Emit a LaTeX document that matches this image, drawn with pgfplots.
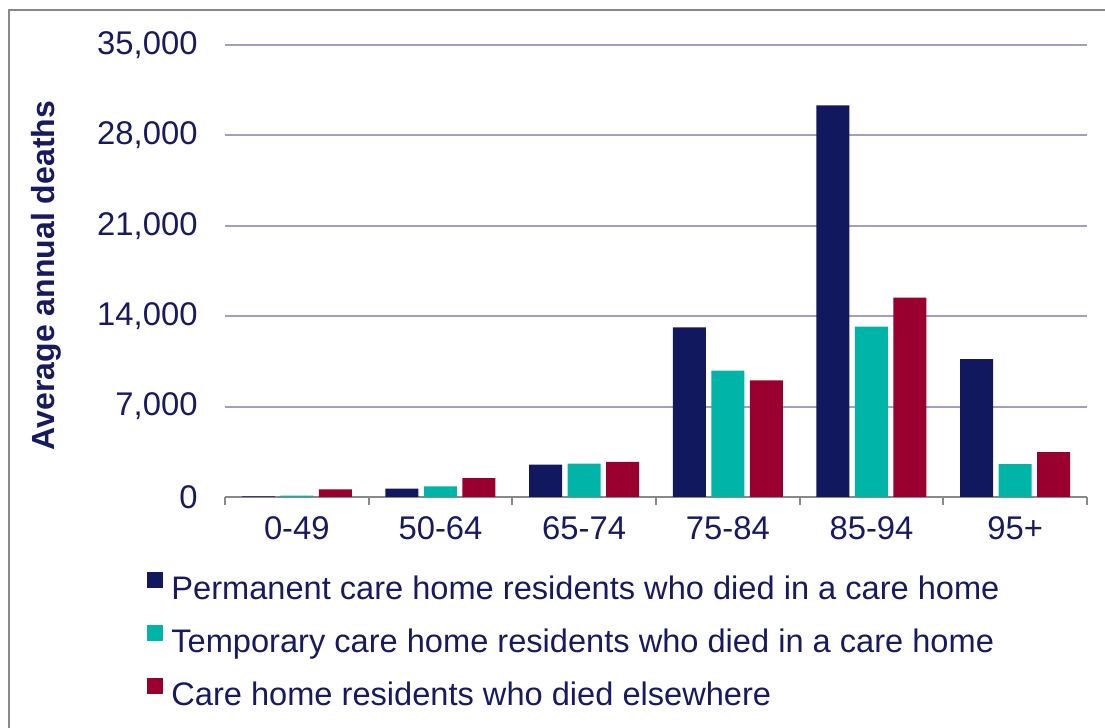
\documentclass[border=0pt]{standalone}
\usepackage{fontspec}
\setmainfont{Liberation Sans}
\usepackage{pgfplots}
\pgfplotsset{compat=1.18}
\definecolor{cnavy}{RGB}{18,24,94}
\definecolor{cteal}{RGB}{0,180,167}
\definecolor{ccrim}{RGB}{153,0,48}
\definecolor{ctext}{RGB}{24,26,96}
\definecolor{cgrid}{RGB}{160,160,192}
\definecolor{cframe}{RGB}{137,137,137}
\begin{document}
\begin{tikzpicture}
\path[use as bounding box] (-112.5pt,-115.5pt) rectangle (440pt,248.5pt);
\draw[cframe,line width=1pt] (-107.75pt,-115.5pt) -- (-107.75pt,243.25pt) -- (440pt,243.25pt);
\begin{axis}[
  scale only axis, width=431pt, height=226pt,
  xmin=-0.5, xmax=5.5, ymin=0, ymax=35000,
  ybar=2.75pt, bar width=16.5pt,
  axis lines*=left,
  y axis line style={draw=none},
  x axis line style={cframe, line width=1pt},
  xtick={0,...,5}, xticklabels={0-49,50-64,65-74,75-84,85-94,95+},
  minor xtick={-0.5,0.5,...,5.5},
  major tick length=0pt, minor tick length=4pt, tick align=outside,
  tick style={cframe, line width=1pt},
  ytick={0,7000,...,35000},
  ymajorgrids, grid style={cgrid, line width=1pt},
  scaled y ticks=false,
  tick label style={font=\fontsize{16.4}{19}\selectfont, text=ctext},
  yticklabel style={/pgf/number format/1000 sep={,}, /pgf/number format/assume math mode=true, xshift=-10.2pt},
  xticklabel style={yshift=-6.5pt},
  ylabel={Average annual deaths},
  ylabel style={font=\bfseries\fontsize{16}{19}\selectfont, text=ctext, at={(axis description cs:-0.207,0.49)}, anchor=center},
  legend style={draw=none, fill=none, at={(axis description cs:-0.0905,-0.165)}, anchor=north west,
    font=\fontsize{16.3}{19}\selectfont, text=ctext, row sep=9pt, column sep=4pt, inner sep=0pt,
    nodes={text height=12pt, text depth=4pt, inner sep=0pt}},
  legend cell align=left,
]
\addplot[fill=cnavy, draw=none, legend image code/.code={\fill[cnavy] (0pt,1.6pt) rectangle (8pt,9.6pt);}]
  coordinates {(0,50) (1,650) (2,2510) (3,13140) (4,30330) (5,10680)};
\addlegendentry{Permanent care home residents who died in a care home}
\addplot[fill=cteal, draw=none, legend image code/.code={\fill[cteal] (0pt,1.6pt) rectangle (8pt,9.6pt);}]
  coordinates {(0,110) (1,830) (2,2590) (3,9780) (4,13190) (5,2540)};
\addlegendentry{Temporary care home residents who died in a care home}
\addplot[fill=ccrim, draw=none, legend image code/.code={\fill[ccrim] (0pt,1.6pt) rectangle (8pt,9.6pt);}]
  coordinates {(0,600) (1,1470) (2,2720) (3,9030) (4,15440) (5,3470)};
\addlegendentry{Care home residents who died elsewhere}
\end{axis}
\end{tikzpicture}
\end{document}
